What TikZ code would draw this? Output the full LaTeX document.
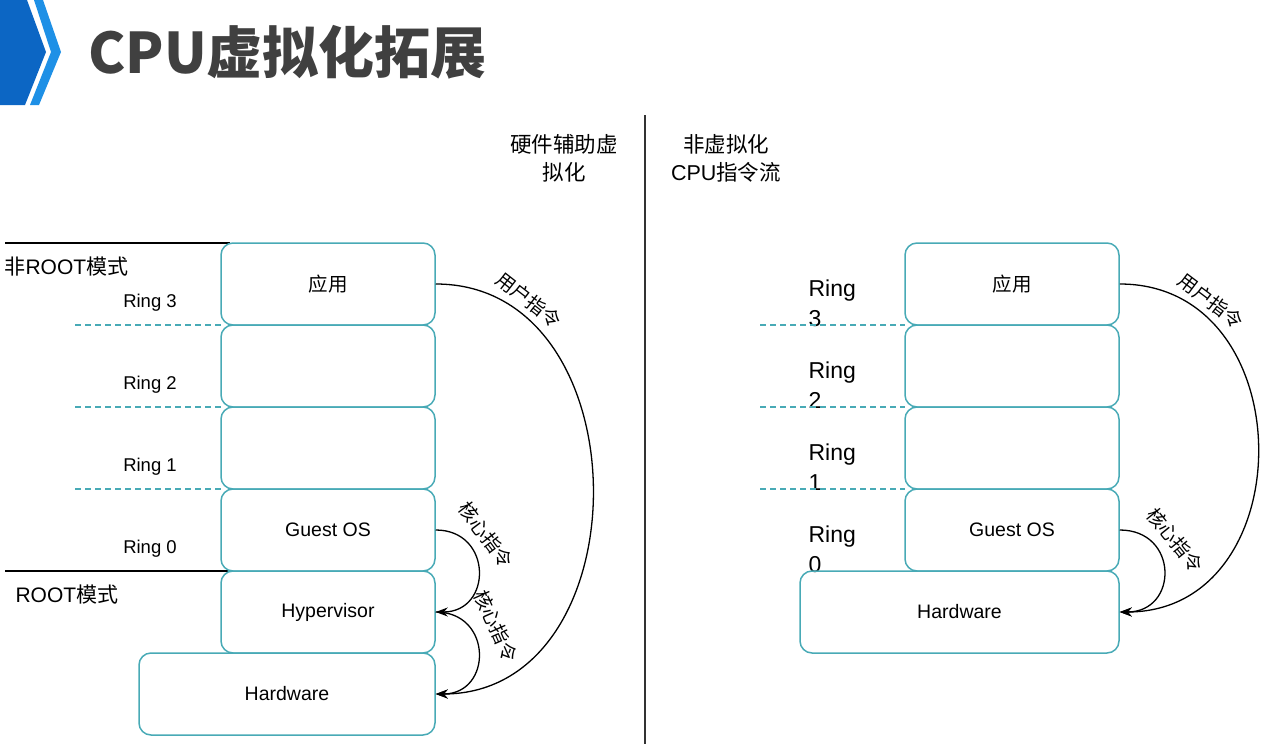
\documentclass[tikz,border=0pt]{standalone}
\usepackage{fontspec}
\setmainfont{Liberation Sans}
\newfontfamily\cjk{Noto Sans CJK SC}
\usepackage{tikz}
\usetikzlibrary{arrows.meta}
\definecolor{boxteal}{RGB}{72,170,182}
\definecolor{darkblue}{RGB}{12,102,196}
\definecolor{lightblue}{RGB}{30,144,230}
\definecolor{titlegray}{RGB}{64,64,64}

\begin{document}
\begin{tikzpicture}[x=1pt,y=-1pt,>={Stealth[length=12pt,width=9pt]},line join=round,
  layer/.style={draw=boxteal,line width=1.5pt,rounded corners=12pt,inner sep=0pt,
    minimum width=214pt,minimum height=82pt,font=\fontsize{19.5}{19.5}\selectfont},
  ringlbl/.style={font=\fontsize{18.5}{18.5}\selectfont},
  bigring/.style={anchor=west,align=left,font=\fontsize{23}{30}\selectfont},
  modelbl/.style={anchor=west,font=\fontsize{21}{21}\selectfont},
  hdr/.style={align=center,font=\fontsize{21.5}{28}\selectfont},
  guide/.style={boxteal,line width=1.2pt,dash pattern=on 6pt off 4pt},
  call/.style={->,line width=1.3pt},
  calllbl/.style={font=\cjk\fontsize{19}{19}\selectfont,inner sep=0pt}]
  \useasboundingbox (0,0) rectangle (1269,744);
  % title bar
  \fill[darkblue] (0,0) -- (27,0) -- (46,52) -- (25,105) -- (0,105) -- cycle;
  \fill[lightblue] (34,0) -- (43,0) -- (61,52) -- (39,105) -- (30,105) -- (51,52) -- cycle;
  \node[anchor=west,inner sep=0pt,text=titlegray,font=\cjk\bfseries\fontsize{56}{56}\selectfont]
    (title) at (88,52) {CPU虚拟化拓展};
  \draw[black!80,line width=1.5pt] (645,115) -- (645,744);

  % left: hardware assisted
  \node[hdr] (hdrL) at (564,158) {{\cjk 硬件辅助虚}\\{\cjk 拟化}};
  \node[ringlbl] (r3L) at (150,303) {Ring 3};
  \node[ringlbl] (r2L) at (150,385) {Ring 2};
  \node[ringlbl] (r1L) at (150,467) {Ring 1};
  \node[ringlbl] (r0L) at (150,549) {Ring 0};
  \node[modelbl] (nonroot) at (1,267) {{\cjk 非}ROOT{\cjk 模式}};
  \node[modelbl] (root) at (12,595) {ROOT{\cjk 模式}};
  \draw[line width=1.5pt] (5,243) -- (230,243);
  \draw[line width=1.5pt] (5,571) -- (230,571);
  \foreach \y in {325,407,489}
    \draw[guide] (75,\y) -- (221,\y);
  \node[layer] (appL) at (328,284) {{\cjk 应用}};
  \node[layer] (e2L) at (328,366) {};
  \node[layer] (e1L) at (328,448) {};
  \node[layer] (osL) at (328,530) {Guest OS};
  \node[layer] (hvL) at (328,612) {Hypervisor};
  \node[layer,minimum width=296pt] (hwL) at (287,694) {Hardware};
  \draw[call] (appL.east) .. controls +(209,0) and +(209,0) .. (hwL.east);
  \draw[call] (osL.east) .. controls +(57,0) and +(57,0) .. (hvL.east);
  \draw[call] (hvL.east) .. controls +(57,0) and +(57,0) .. (hwL.east);
  \node[calllbl,rotate=-38] (uL) at (529,300) {用户指令};
  \node[calllbl,rotate=-53] (k1L) at (486,535) {核心指令};
  \node[calllbl,rotate=-66] (k2L) at (496,626) {核心指令};

  % right: no virtualisation
  \node[hdr] (hdrR) at (726,158) {{\cjk 非虚拟化}\\CPU{\cjk 指令流}};
  \node[bigring] (r3R) at (805,303) {Ring\\3};
  \node[bigring] (r2R) at (805,385) {Ring\\2};
  \node[bigring] (r1R) at (805,467) {Ring\\1};
  \node[bigring] (r0R) at (805,549) {Ring\\0};
  \foreach \y in {325,407,489}
    \draw[guide] (760,\y) -- (905,\y);
  \node[layer] (appR) at (1012,284) {{\cjk 应用}};
  \node[layer] (e2R) at (1012,366) {};
  \node[layer] (e1R) at (1012,448) {};
  \node[layer] (osR) at (1012,530) {Guest OS};
  \node[layer,minimum width=319pt] (hwR) at (959.5,612) {Hardware};
  \draw[call] (appR.east) .. controls +(184,0) and +(184,0) .. (hwR.east);
  \draw[call] (osR.east) .. controls +(59,0) and +(59,0) .. (hwR.east);
  \node[calllbl,rotate=-37] (uR) at (1211,301) {用户指令};
  \node[calllbl,rotate=-51] (kR) at (1175,540) {核心指令};
\end{tikzpicture}
\end{document}
